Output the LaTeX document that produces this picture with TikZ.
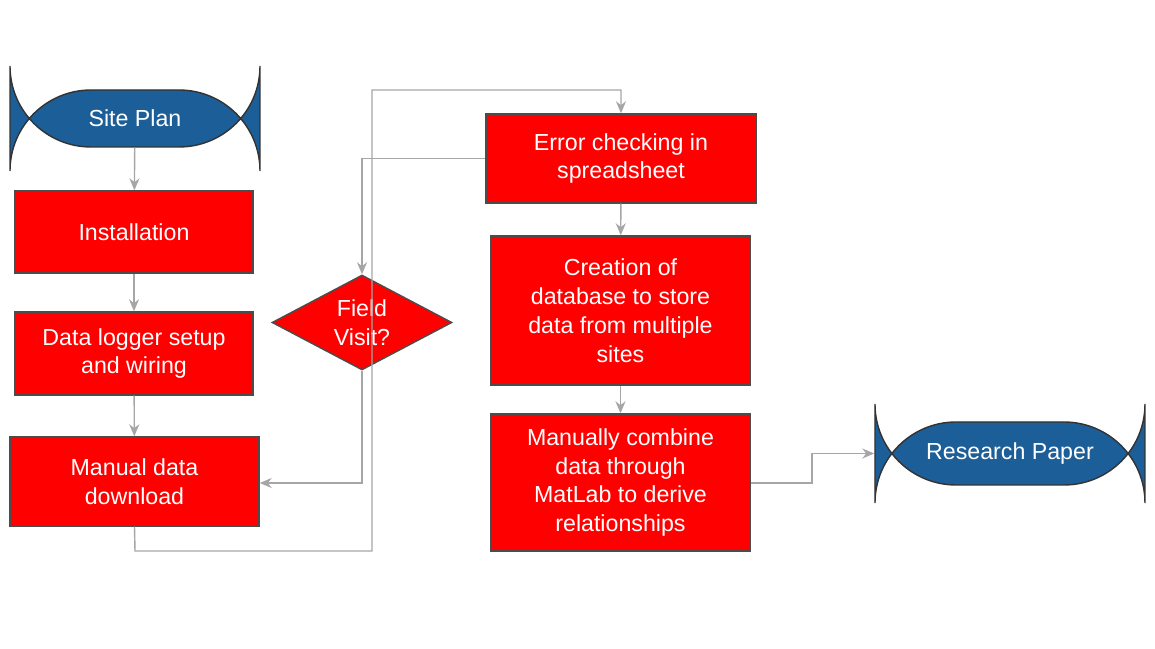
\documentclass[tikz,border=0pt]{standalone}
\usepackage{fontspec}
\setmainfont{Liberation Sans}
\usetikzlibrary{shapes.geometric,arrows.meta}
\definecolor{rbox}{HTML}{FF0000}
\definecolor{bterm}{HTML}{1B5E98}
\begin{document}
\begin{tikzpicture}[x=0.1mm,y=-0.1mm,
  box/.style={draw=black!70,line width=0.4pt,fill=rbox,text=white,align=center,font=\fontsize{6.6}{8.2}\selectfont,inner sep=0pt},
  term/.style={draw=black!80,line width=0.4pt,fill=bterm,text=white,rounded corners=8.1mm,align=center,font=\fontsize{6.6}{8.2}\selectfont,inner sep=0pt},
  con/.style={draw=black!35,line width=0.4pt,-{Stealth[length=1.2mm,width=1mm]}}]
\useasboundingbox (0,0) rectangle (1155,649);
\node[term,minimum width=25mm,minimum height=5.7mm] (site) at (135,118.5) {Site Plan};
\node[box,minimum width=23.8mm,minimum height=8.2mm] (inst) at (134,232) {Installation};
\node[box,minimum width=23.8mm,minimum height=8.3mm] (log) at (134,353.5) {Data logger setup\\and wiring};
\node[box,minimum width=24.9mm,minimum height=8.9mm] (man) at (134.5,481.5) {Manual data\\download};
\node[diamond,draw=black!70,fill=rbox,text=white,align=center,font=\fontsize{6.6}{8.2}\selectfont,minimum width=18mm,minimum height=9.5mm,aspect=1.9,inner sep=0pt] (fv) at (362,322.5) {Field\\Visit?};
\node[box,minimum width=27mm,minimum height=8.9mm] (err) at (621,158.5) {Error checking in\\spreadsheet};
\node[box,minimum width=25.9mm,minimum height=14.9mm] (db) at (620.5,310.5) {Creation of\\database to store\\data from multiple\\sites};
\node[box,minimum width=25.9mm,minimum height=13.7mm] (mat) at (620.5,482.5) {Manually combine\\data through\\MatLab to derive\\relationships};
\node[term,minimum width=27mm,minimum height=6.3mm] (rp) at (1010,453.5) {Research Paper};
\draw[con] (site) -- (inst);
\draw[con] (inst) -- (log);
\draw[con] (log) -- (man);
\draw[con] (man.south) -- (135,551) -- (372,551) -- (372,90) -- (621,90) -- (err.north);
\draw[con] (err.west) -- (362,158.5) -- (fv.north);
\draw[con] (fv.south) -- (362,483) -- (man.east |- 0,483);
\draw[con] (err) -- (db);
\draw[con] (db) -- (mat);
\draw[con] (mat.east |- 0,483) -- (812,483) -- (812,453.5) -- (rp.west);
\end{tikzpicture}
\end{document}
